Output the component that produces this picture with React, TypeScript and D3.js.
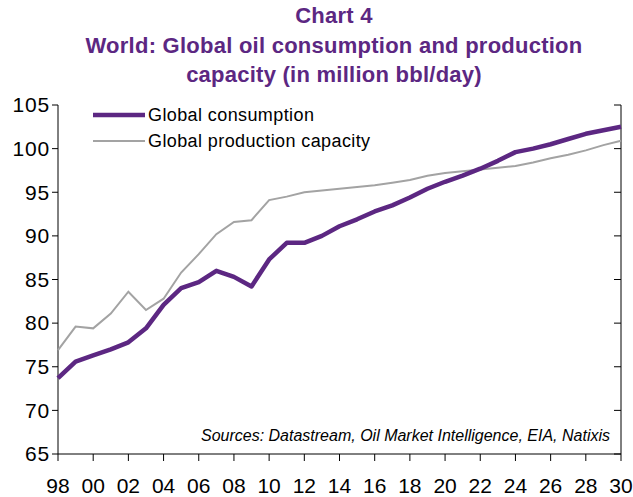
import React from "react";
import * as d3 from "d3";

const years: number[] = [
  1998, 1999, 2000, 2001, 2002, 2003, 2004, 2005, 2006, 2007, 2008, 2009, 2010,
  2011, 2012, 2013, 2014, 2015, 2016, 2017, 2018, 2019, 2020, 2021, 2022, 2023,
  2024, 2025, 2026, 2027, 2028, 2029, 2030,
];

const consumption: number[] = [
  73.7, 75.6, 76.3, 77.0, 77.8, 79.4, 82.1, 84.0, 84.7, 86.0, 85.3, 84.2, 87.3,
  89.2, 89.2, 90.0, 91.1, 91.9, 92.8, 93.5, 94.4, 95.4, 96.2, 96.9, 97.7, 98.6,
  99.6, 100.0, 100.5, 101.1, 101.7, 102.1, 102.5,
];

const capacity: number[] = [
  76.9, 79.6, 79.4, 81.1, 83.6, 81.5, 82.8, 85.8, 87.9, 90.2, 91.6, 91.8, 94.1,
  94.5, 95.0, 95.2, 95.4, 95.6, 95.8, 96.1, 96.4, 96.9, 97.2, 97.4, 97.6, 97.8,
  98.0, 98.4, 98.9, 99.3, 99.8, 100.4, 100.9,
];

const yTicks: number[] = [65, 70, 75, 80, 85, 90, 95, 100, 105];
const xTicks: number[] = [
  1998, 2000, 2002, 2004, 2006, 2008, 2010, 2012, 2014, 2016, 2018, 2020, 2022,
  2024, 2026, 2028, 2030,
];

const titleLines: string[] = [
  "Chart 4",
  "World: Global oil consumption and production",
  "capacity (in million bbl/day)",
];
const seriesNames: string[] = ["Global consumption", "Global production capacity"];
const sourceText = "Sources: Datastream, Oil Market Intelligence, EIA, Natixis";

const W = 633;
const H = 497;
const left = 58;
const right = 621;
const top = 105;
const bottom = 454;
const PURPLE = "#5c2782";
const GREY = "#a3a3a3";
const FONT = "'Liberation Sans', Arial, sans-serif";

export default function App() {
  const x = d3.scaleLinear().domain([1998, 2030]).range([left, right]);
  const y = d3.scaleLinear().domain([65, 105]).range([bottom, top]);

  const line = d3
    .line<number>()
    .x((_, i) => x(years[i]))
    .y((d) => y(d));

  const titleY = [22.5, 53, 82];

  return (
    <svg
      width={W}
      height={H}
      style={{ position: "absolute", left: 0, top: 0, background: "#fff" }}
      fontFamily={FONT}
    >
      <rect x={0} y={0} width={W} height={H} fill="#fff" />
      {titleLines.map((t, i) => (
        <text
          key={i}
          x={334}
          y={titleY[i]}
          textAnchor="middle"
          fontSize={22}
          fontWeight="bold"
          letterSpacing={0.25}
          fill={PURPLE}
        >
          {t}
        </text>
      ))}

      {/* axes */}
      <line x1={left} x2={left} y1={top} y2={bottom} stroke="#000" strokeWidth={1} />
      <line x1={right} x2={right} y1={top} y2={bottom} stroke="#000" strokeWidth={1} />
      <line x1={left} x2={right} y1={bottom} y2={bottom} stroke="#000" strokeWidth={1} />
      {yTicks.map((v) => (
        <g key={v}>
          <line x1={left - 6} x2={left} y1={y(v)} y2={y(v)} stroke="#000" />
          <line x1={right - 7} x2={right} y1={y(v)} y2={y(v)} stroke="#000" />
          <text
            x={50}
            y={y(v)}
            dy="0.35em"
            textAnchor="end"
            fontSize={21}
            letterSpacing={0.8}
            fill="#000"
          >
            {v}
          </text>
        </g>
      ))}
      {xTicks.map((v) => (
        <g key={v}>
          <line x1={x(v)} x2={x(v)} y1={bottom} y2={bottom + 7} stroke="#000" />
          <text x={x(v)} y={493} textAnchor="middle" fontSize={21} fill="#000">
            {String(v % 100).padStart(2, "0")}
          </text>
        </g>
      ))}

      {/* series */}
      <path d={line(capacity) || ""} fill="none" stroke={GREY} strokeWidth={2} />
      <path
        d={line(consumption) || ""}
        fill="none"
        stroke={PURPLE}
        strokeWidth={4.5}
        strokeLinejoin="round"
      />

      {/* legend */}
      <line x1={93} x2={145} y1={115} y2={115} stroke={PURPLE} strokeWidth={4.5} />
      <text x={148} y={121} fontSize={18} letterSpacing={0.4} fill="#000">
        {seriesNames[0]}
      </text>
      <line x1={93} x2={145} y1={141} y2={141} stroke={GREY} strokeWidth={2} />
      <text x={148} y={147} fontSize={18} letterSpacing={0.4} fill="#000">
        {seriesNames[1]}
      </text>

      <text
        x={610}
        y={441}
        textAnchor="end"
        fontSize={16}
        fontStyle="italic"
        fill="#000"
      >
        {sourceText}
      </text>
    </svg>
  );
}
